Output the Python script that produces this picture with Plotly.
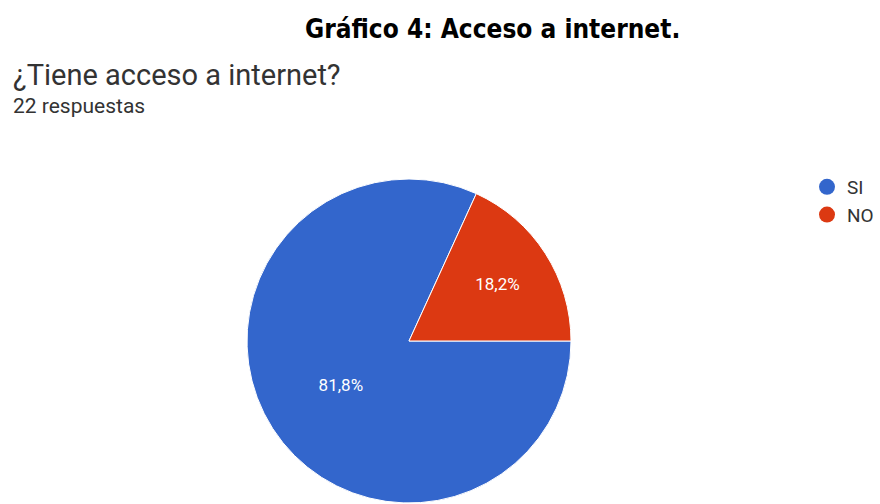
import plotly.graph_objects as go

categories = ["SI", "NO"]
values = [18, 4]
pct_labels = ["81,8%", "18,2%"]
colors = ["#3366CC", "#DC3912"]

title_text = "Gráfico 4: Acceso a internet."
question = "¿Tiene acceso a internet?"
responses = "22 respuestas"

fig = go.Figure()
fig.add_trace(go.Pie(
    labels=categories, values=values, text=pct_labels, textinfo="text",
    sort=False, direction="clockwise", rotation=90,
    marker=dict(colors=colors, line=dict(color="white", width=1)),
    textfont=dict(color="white", size=17, family="Roboto"),
    insidetextorientation="horizontal",
    domain=dict(x=[247/880, 571/880], y=[1/504, 325/504]),
    showlegend=False, hoverinfo="label+percent",
))
for c, col in zip(categories, colors):
    fig.add_trace(go.Scatter(x=[None], y=[None], mode="markers", name=c,
                             marker=dict(color=col, size=20, symbol="circle")))

fig.update_layout(
    width=880, height=504, margin=dict(l=0, r=0, t=0, b=0),
    paper_bgcolor="white", plot_bgcolor="white",
    xaxis=dict(visible=False), yaxis=dict(visible=False),
    legend=dict(x=807/880, y=1-168/504, xanchor="left", yanchor="top",
                font=dict(size=19, color="#333", family="Roboto"),
                itemsizing="trace", tracegroupgap=0),
    annotations=[
        dict(text="<b>" + title_text + "</b>", x=493/880, y=1-29/504, xref="paper", yref="paper",
             showarrow=False, xanchor="center", yanchor="middle",
             font=dict(size=26, color="black", family="DejaVu Sans Condensed, DejaVu Sans")),
        dict(text=question, x=11/880, y=1-75/504, xref="paper", yref="paper",
             showarrow=False, xanchor="left", yanchor="middle",
             font=dict(size=29, color="#333", family="Roboto")),
        dict(text=responses, x=11/880, y=1-106/504, xref="paper", yref="paper",
             showarrow=False, xanchor="left", yanchor="middle",
             font=dict(size=21, color="#333", family="Roboto")),
    ],
)
fig.write_html("out.html")
